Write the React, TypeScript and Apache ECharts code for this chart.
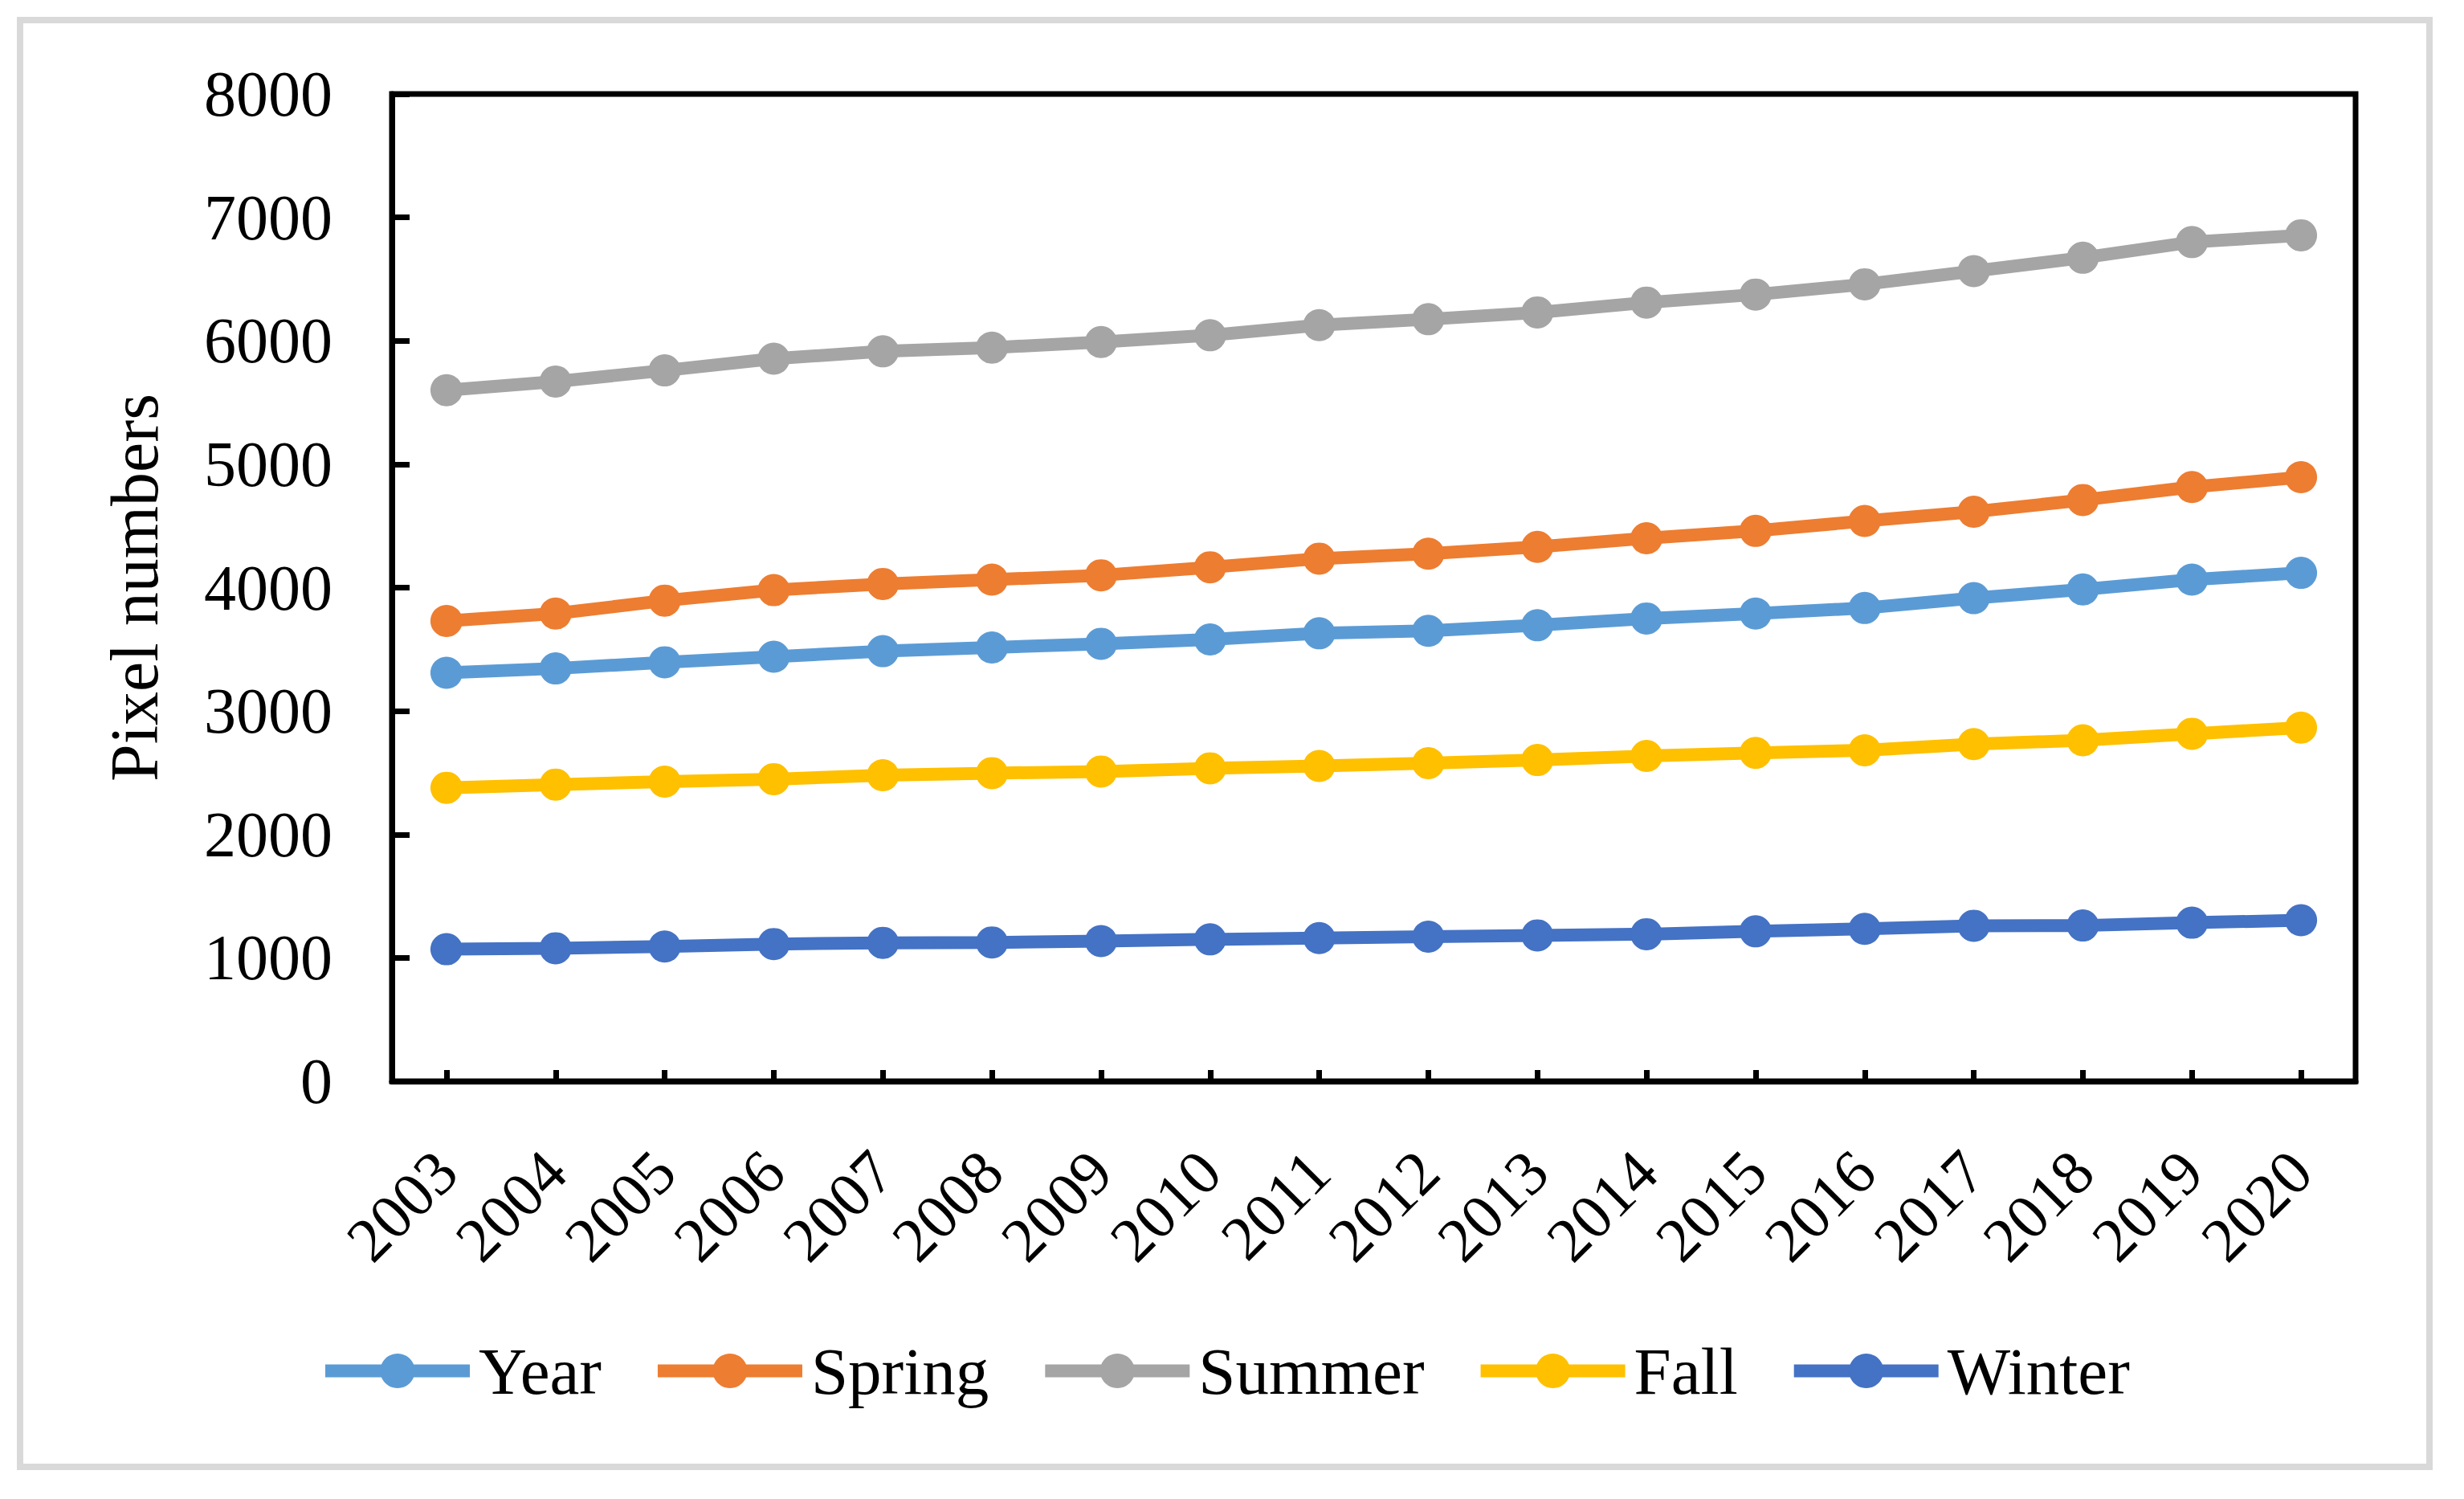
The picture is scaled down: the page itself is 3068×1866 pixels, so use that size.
import React, { useEffect, useRef } from "react";
import * as echarts from "echarts";

const years = ["2003", "2004", "2005", "2006", "2007", "2008", "2009", "2010", "2011", "2012", "2013", "2014", "2015", "2016", "2017", "2018", "2019", "2020"];
const yearVals = [3310, 3345, 3395, 3440, 3485, 3515, 3545, 3580, 3630, 3650, 3695, 3750, 3790, 3835, 3915, 3985, 4065, 4120];
const springVals = [3730, 3790, 3895, 3980, 4030, 4065, 4100, 4165, 4235, 4275, 4330, 4400, 4460, 4540, 4615, 4710, 4815, 4895];
const summerVals = [5600, 5670, 5760, 5855, 5915, 5945, 5990, 6045, 6127, 6175, 6230, 6310, 6375, 6458, 6565, 6673, 6800, 6855];
const fallVals = [2378, 2404, 2428, 2448, 2480, 2497, 2510, 2536, 2555, 2578, 2603, 2636, 2661, 2682, 2732, 2763, 2816, 2866];
const winterVals = [1070, 1078, 1092, 1112, 1122, 1125, 1136, 1150, 1160, 1172, 1182, 1192, 1215, 1235, 1260, 1262, 1285, 1305];

const seriesNames = ["Year", "Spring", "Summer", "Fall", "Winter"];
const seriesColors = ["#5B9BD5", "#ED7D31", "#A5A5A5", "#FFC000", "#4472C4"];
const seriesData = [yearVals, springVals, summerVals, fallVals, winterVals];

const FONT = "'Liberation Serif', 'Times New Roman', serif";

export default function App() {
  const ref = useRef<HTMLDivElement>(null);
  useEffect(() => {
    if (!ref.current) return;
    const chart = echarts.init(ref.current, undefined, { renderer: "svg" });
    chart.setOption({
      animation: false,
      backgroundColor: "#ffffff",
      graphic: [
        {
          type: "rect",
          shape: { x: 25, y: 25, width: 3000, height: 1801 },
          style: { fill: "none", stroke: "#d9d9d9", lineWidth: 8 },
          silent: true,
        },
      ],
      grid: {
        left: 488,
        right: 135,
        top: 117,
        bottom: 520,
        show: true,
        borderColor: "#000",
        borderWidth: 7,
        containLabel: false,
      },
      legend: {
        data: seriesNames,
        left: 392,
        top: 1660,
        itemWidth: 180,
        itemHeight: 54,
        itemGap: 62,
        lineStyle: { width: 16 },
        textStyle: {
          fontFamily: FONT,
          fontSize: 83,
          color: "#000",
          padding: [0, 0, 0, 6],
        },
      },
      xAxis: {
        type: "category",
        data: years,
        boundaryGap: true,
        axisLine: { show: true, lineStyle: { color: "#000", width: 7 } },
        axisTick: {
          show: true,
          inside: true,
          alignWithLabel: true,
          length: 14,
          lineStyle: { color: "#000", width: 7 },
        },
        axisLabel: {
          rotate: 45,
          interval: 0,
          margin: 100,
          fontFamily: FONT,
          fontSize: 78,
          color: "#000",
        },
        splitLine: { show: false },
      },
      yAxis: {
        type: "value",
        min: 0,
        max: 8000,
        interval: 1000,
        name: "Pixel numbers",
        nameLocation: "middle",
        nameGap: 279,
        nameRotate: 90,
        nameTextStyle: { fontFamily: FONT, fontSize: 84, color: "#000" },
        axisLine: { show: true, lineStyle: { color: "#000", width: 7 } },
        axisTick: {
          show: true,
          inside: true,
          length: 22,
          lineStyle: { color: "#000", width: 7 },
        },
        axisLabel: {
          margin: 74,
          fontFamily: FONT,
          fontSize: 80,
          color: "#000",
          formatter: (v: number) => String(v),
        },
        splitLine: { show: false },
      },
      series: seriesNames.map((name, i) => ({
        name,
        type: "line",
        data: seriesData[i],
        symbol: "circle",
        symbolSize: 40,
        showSymbol: true,
        color: seriesColors[i],
        lineStyle: { width: 16, color: seriesColors[i] },
        itemStyle: { color: seriesColors[i] },
      })),
    });
    return () => chart.dispose();
  }, []);
  return (
    <div
      ref={ref}
      style={{ position: "fixed", left: 0, top: 0, width: 3068, height: 1866, background: "#fff" }}
    />
  );
}
